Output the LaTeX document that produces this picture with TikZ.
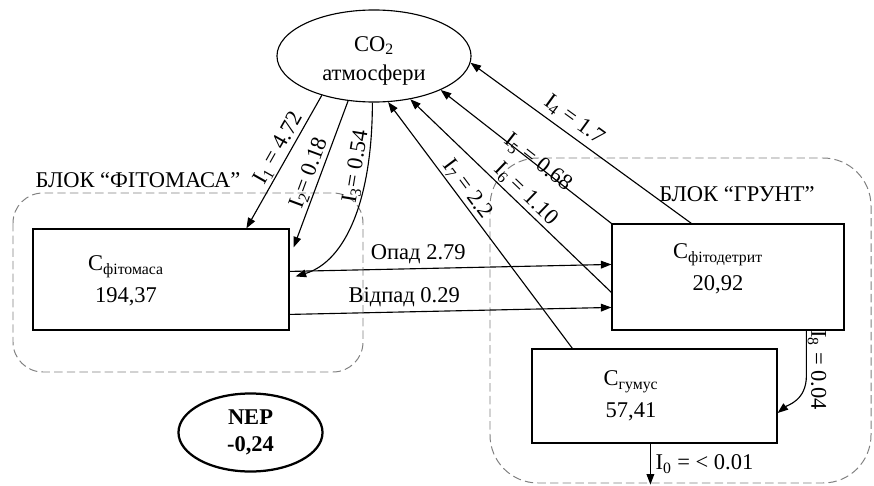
\documentclass[tikz,border=0pt]{standalone}
\usepackage{fontspec}
\setmainfont{Liberation Serif}
\usetikzlibrary{arrows.meta,shapes.geometric,calc}
\begin{document}
\begin{tikzpicture}[x=0.025cm,y=-0.025cm,
  every node/.style={font=\fontsize{16}{23}\selectfont},
  pool/.style={draw,line width=0.8pt,inner sep=0pt},
  blok/.style={draw=gray,line width=0.7pt,dash pattern=on 6pt off 3pt},
  flux/.style={line width=0.8pt,-{Triangle[length=7.5pt,width=5.5pt]}},
  lbl/.style={sloped,above,inner sep=1pt}]
\useasboundingbox (0,0) rectangle (874,486);
\draw[blok,rounded corners=0.75cm] (13,193) rectangle (363,372);
\draw[blok,rounded corners=1.2cm] (490,158) rectangle (871,483);
\node (bfito) at (138,180) {БЛОК “ФІТОМАСА”};
\node (bgrunt) at (737,194) {БЛОК “ГРУНТ”};
\node[ellipse,draw,line width=0.8pt,minimum width=4.85cm,minimum height=2.3cm] (co2) at (374,56) {};
\node[align=center,font=\fontsize{16}{21}\selectfont] (co2t) at (374,61) {CO\textsubscript{2}\\атмосфери};
\node[pool,minimum width=6.4cm,minimum height=2.525cm] (fito) at (161,279.5) {};
\node[align=center] (fitot) at (126,281) {C\textsubscript{фітомаса}\\194,37};
\node[pool,minimum width=5.8cm,minimum height=2.65cm] (det) at (728,277) {};
\node[align=center] (dett) at (718,269) {C\textsubscript{фітодетрит}\\20,92};
\node[pool,minimum width=6.125cm,minimum height=2.35cm] (hum) at (654.5,396) {};
\node[align=center] (humt) at (631,396) {C\textsubscript{гумус}\\57,41};
\node[ellipse,draw,line width=1.6pt,minimum width=3.6cm,minimum height=1.95cm,align=center,font=\bfseries\fontsize{16}{19}\selectfont] (nep) at (250.5,432.5) {NEP\\-0,24};
\draw[flux] (co2.217) -- node[lbl,pos=0.44] {I\textsubscript{1} = 4.72} ($(fito.north west)+(214,0)$);
\draw[flux] (co2.240) -- node[lbl,pos=0.52] {I\textsubscript{2}= 0.18} ($(fito.north east)+(4,19)$);
\draw[flux] (co2.268) .. controls +(0,97) and +(50,-15) .. node[lbl,pos=0.25] {I\textsubscript{3}= 0.54} ($(fito.north east)+(6,48)$);
\draw[flux] ($(det.north west)+(80,0)$) -- node[sloped,above,pos=0.57] {I\textsubscript{4} = 1.7} (co2.356);
\draw[flux] (det.north west) -- node[sloped,anchor=mid,pos=0.44] {I\textsubscript{5} = 0.68} (co2.333);
\draw[flux] ($(det.north west)+(0,69)$) -- node[lbl,pos=0.465] {I\textsubscript{6} = 1.10} (co2.310);
\draw[flux] ($(hum.north west)+(41,0)$) -- node[lbl,pos=0.62] {I\textsubscript{7} = 2.2} (co2.287);
\draw[flux] ($(fito.north east)+(0,43)$) -- node[above,pos=0.4] {Опад 2.79} ($(det.north west)+(0,41)$);
\draw[flux] ($(fito.north east)+(0,86)$) -- node[above,pos=0.356] {Відпад 0.29} ($(det.north west)+(0,84)$);
\draw[flux] ($(det.south west)+(195,0)$) -- ++(0,45) .. controls +(0,25) and +(10,-8) .. ($(hum.east)+(0,17)$);
\node[rotate=-90] (i8) at (817,370) {I\textsubscript{8} = 0.04};
\draw[flux] ($(hum.south west)+(119,0)$) -- node[right] {I\textsubscript{0} = < 0.01} ++(0,41);
\end{tikzpicture}
\end{document}
